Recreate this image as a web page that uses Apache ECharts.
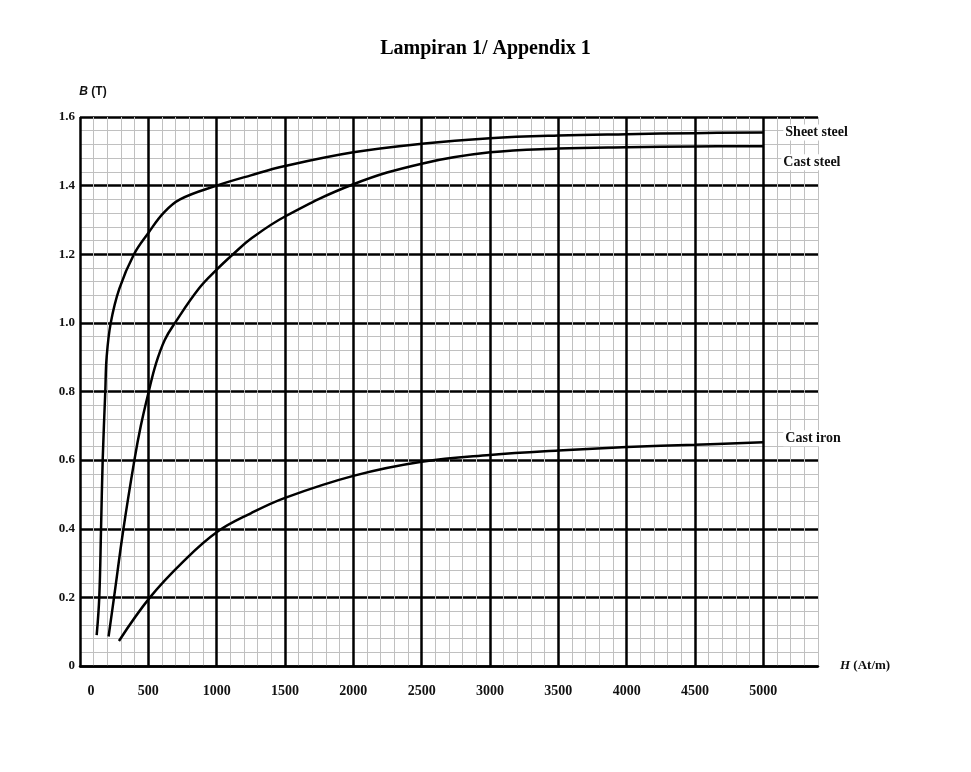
<!DOCTYPE html>
<html>
<head>
<meta charset="utf-8">
<title>Lampiran 1</title>
<script src="https://cdn.jsdelivr.net/npm/echarts@6/dist/echarts.min.js"></script>
<style>
  html, body { margin: 0; padding: 0; background: #fff; }
  #main { width: 971px; height: 772px; }
</style>
</head>
<body>
<div id="main"></div>
<script>
// B-H curves
const sheetH = [122, 141, 154, 166, 185, 195, 225, 288, 395, 500, 610, 732, 1000, 1250, 1500, 2000, 2500, 3000, 3500, 4000, 4500, 5000]
const sheetB = [0.09, 0.2, 0.4, 0.6, 0.8, 0.9, 1.0, 1.1, 1.2, 1.262, 1.32, 1.36, 1.40, 1.43, 1.457, 1.497, 1.522, 1.538, 1.546, 1.55, 1.553, 1.555]

const castSteelH = [209, 249, 318, 398, 445, 503, 555, 620, 695, 870, 1000, 1120, 1250, 1500, 2000, 2500, 3000, 3500, 4000, 4500, 5000]
const castSteelB = [0.086, 0.2, 0.4, 0.6, 0.7, 0.8, 0.88, 0.95, 1.0, 1.1, 1.155, 1.2, 1.245, 1.31, 1.404, 1.464, 1.497, 1.508, 1.512, 1.514, 1.515]

const castIronH = [285, 512, 757, 1000, 1250, 1500, 2000, 2500, 3000, 3500, 4000, 4500, 5000]
const castIronB = [0.073, 0.2, 0.305, 0.39, 0.445, 0.49, 0.554, 0.595, 0.615, 0.628, 0.638, 0.645, 0.652]

const seriesNames = ['Sheet steel', 'Cast steel', 'Cast iron']
const xTicks = [0, 500, 1000, 1500, 2000, 2500, 3000, 3500, 4000, 4500, 5000]

const pairs = (hs, bs) => hs.map((h, i) => [h, bs[i]])

const labelFont = {
  fontFamily: 'Liberation Serif',
  fontWeight: 'bold',
  fontSize: 14,
  color: '#111'
}

function curve(name, hs, bs, offset) {
  return {
    name: name,
    type: 'line',
    xAxisIndex: 1,
    data: pairs(hs, bs),
    smooth: 0.4,
    showSymbol: false,
    symbol: 'none',
    lineStyle: { color: '#000', width: 2.5 },
    z: 5,
    endLabel: {
      show: true,
      formatter: '{a}',
      offset: offset,
      ...labelFont,
      backgroundColor: '#fff',
      padding: [1, 2]
    }
  }
}

const myChart = echarts.init(document.getElementById('main'))
const option = {
  backgroundColor: '#fff',
  animation: false,
  title: {
    text: 'Lampiran 1/ Appendix 1',
    left: 'center',
    top: 34,
    textStyle: {
      fontFamily: 'Liberation Serif',
      fontWeight: 'bold',
      fontSize: 20,
      color: '#000'
    }
  },
  grid: {
    left: 80,
    right: 153,
    top: 117,
    bottom: 106
  },
  xAxis: [
    {
      // fine 100 At/m grid
      type: 'value',
      position: 'bottom',
      min: 0,
      max: 5400,
      interval: 100,
      z: 0,
      axisLine: { show: false },
      axisTick: { show: false },
      axisLabel: { show: false },
      splitLine: { lineStyle: { color: '#c0c0c0', width: 1 } }
    },
    {
      type: 'value',
      position: 'bottom',
      min: 0,
      max: 5400,
      interval: 500,
      z: 1,
      name: '{i|H} (At/m)',
      nameLocation: 'end',
      nameGap: 22,
      nameTextStyle: {
        ...labelFont,
        fontSize: 13,
        rich: {
          i: { ...labelFont, fontSize: 13, fontStyle: 'italic' }
        }
      },
      axisLine: { lineStyle: { color: '#000', width: 2.5 } },
      axisTick: { show: false },
      axisLabel: {
        margin: 18,
        showMaxLabel: false,
        ...labelFont,
        formatter: v => (xTicks.indexOf(v) < 0 ? '' : (v === 0 ? '{z|0}' : String(v))),
        rich: {
          z: { ...labelFont, padding: [0, 0, 0, 22] }
        }
      },
      splitLine: {
        showMaxLine: false,
        lineStyle: { color: '#000', width: 2.5 }
      }
    }
  ],
  yAxis: {
    type: 'value',
    min: 0,
    max: 1.6,
    interval: 0.2,
    name: '{i|B} (T)',
    nameLocation: 'end',
    nameGap: 19,
    nameTextStyle: {
      fontFamily: 'Liberation Sans',
      fontWeight: 'bold',
      fontSize: 12,
      color: '#111',
      padding: [0, 0, 0, 26],
      rich: {
        i: { fontFamily: 'Liberation Sans', fontWeight: 'bold', fontSize: 12, fontStyle: 'italic', color: '#111' }
      }
    },
    axisLine: { show: false },
    axisTick: { show: false },
    axisLabel: {
      margin: 5,
      ...labelFont,
      fontSize: 13,
      formatter: v => (v === 0 ? '0' : v.toFixed(1))
    },
    splitLine: { lineStyle: { color: '#000', width: 2.5 } },
    minorTick: { show: false, splitNumber: 5 },
    minorSplitLine: { show: true, lineStyle: { color: '#c0c0c0', width: 1 } }
  },
  series: [
    curve(seriesNames[0], sheetH, sheetB, [12, 0]),
    curve(seriesNames[1], castSteelH, castSteelB, [10, 16]),
    curve(seriesNames[2], castIronH, castIronB, [12, -4])
  ]
}
myChart.setOption(option)
</script>
</body>
</html>
